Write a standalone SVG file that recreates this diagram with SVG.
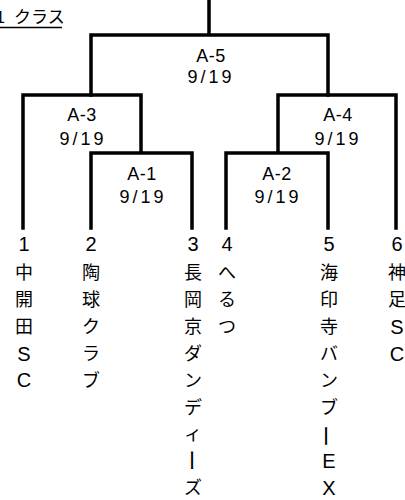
<svg xmlns="http://www.w3.org/2000/svg" width="405" height="500" viewBox="0 0 405 500">
<style>
.ln{fill:none;stroke:#000;stroke-width:3.5;stroke-linecap:square;stroke-linejoin:miter}
text{font-family:"Liberation Sans","Noto Sans CJK JP",sans-serif;fill:#000}
.lb{font-size:18px;text-anchor:middle;letter-spacing:0.5px}
.dt{font-size:18px;text-anchor:middle;letter-spacing:3px}
.tm{text-anchor:middle}
.n{font-size:20px}
.j{font-size:18px}
.l{font-size:20px}
.b{font-size:22px}
</style>
<rect width="405" height="500" fill="#fff"/>
<g id="title">
<text x="-4.5 14" y="23" font-size="17">1クラス</text>
<line x1="0" y1="27.5" x2="62" y2="27.5" stroke="#000" stroke-width="1.3"/>
</g>
<g id="connectors">
<path class="ln" d="M209,0V35M91,95V35H328V95"/>
<path class="ln" d="M23,228V95H141V153M91,228V153H192V228"/>
<path class="ln" d="M396,228V95H278V153M226,228V153H328V228"/>
</g>
<g id="A-5"><text class="lb" x="211" y="62">A-5</text><text class="dt" x="211" y="83">9/19</text></g>
<g id="A-3"><text class="lb" x="82" y="121">A-3</text><text class="dt" x="83" y="145">9/19</text></g>
<g id="A-1"><text class="lb" x="142" y="180">A-1</text><text class="dt" x="143" y="203">9/19</text></g>
<g id="A-4"><text class="lb" x="338" y="121">A-4</text><text class="dt" x="338" y="145">9/19</text></g>
<g id="A-2"><text class="lb" x="277" y="180">A-2</text><text class="dt" x="278" y="203">9/19</text></g>
<g id="team1"><text class="tm"><tspan class="n" x="24" y="251">1</tspan><tspan class="j" x="24" y="279">中</tspan><tspan class="j" x="24" y="305.9">開</tspan><tspan class="j" x="24" y="332.8">田</tspan><tspan class="l" x="24" y="360.5">S</tspan><tspan class="l" x="24" y="387.4">C</tspan></text></g>
<g id="team2"><text class="tm"><tspan class="n" x="91" y="251">2</tspan><tspan class="j" x="91" y="279">陶</tspan><tspan class="j" x="91" y="305.9">球</tspan><tspan class="j" x="91" y="332.8">ク</tspan><tspan class="j" x="91" y="359.7">ラ</tspan><tspan class="j" x="91" y="386.6">ブ</tspan></text></g>
<g id="team3"><text class="tm"><tspan class="n" x="193" y="251">3</tspan><tspan class="j" x="193" y="279">長</tspan><tspan class="j" x="193" y="305.9">岡</tspan><tspan class="j" x="193" y="332.8">京</tspan><tspan class="j" x="193" y="359.7">ダ</tspan><tspan class="j" x="193" y="386.6">ン</tspan><tspan class="j" x="193" y="413.5">デ</tspan><tspan class="j" x="193" y="440.4">ィ</tspan><tspan class="b" x="194.6" y="449.3" rotate="90">ー</tspan><tspan class="j" x="193" y="494.2">ズ</tspan></text></g>
<g id="team4"><text class="tm"><tspan class="n" x="227" y="251">4</tspan><tspan class="j" x="227" y="279">へ</tspan><tspan class="j" x="227" y="305.9">る</tspan><tspan class="j" x="227" y="332.8">つ</tspan></text></g>
<g id="team5"><text class="tm"><tspan class="n" x="329" y="251">5</tspan><tspan class="j" x="329" y="279">海</tspan><tspan class="j" x="329" y="305.9">印</tspan><tspan class="j" x="329" y="332.8">寺</tspan><tspan class="j" x="329" y="359.7">バ</tspan><tspan class="j" x="329" y="386.6">ン</tspan><tspan class="j" x="329" y="413.5">ブ</tspan><tspan class="b" x="328.6" y="425" rotate="90">ー</tspan><tspan class="l" x="329" y="468">E</tspan><tspan class="l" x="329" y="495">X</tspan></text></g>
<g id="team6"><text class="tm"><tspan class="n" x="397" y="251">6</tspan><tspan class="j" x="397" y="279">神</tspan><tspan class="j" x="397" y="305.9">足</tspan><tspan class="l" x="397" y="333.6">S</tspan><tspan class="l" x="397" y="360.5">C</tspan></text></g>
</svg>
